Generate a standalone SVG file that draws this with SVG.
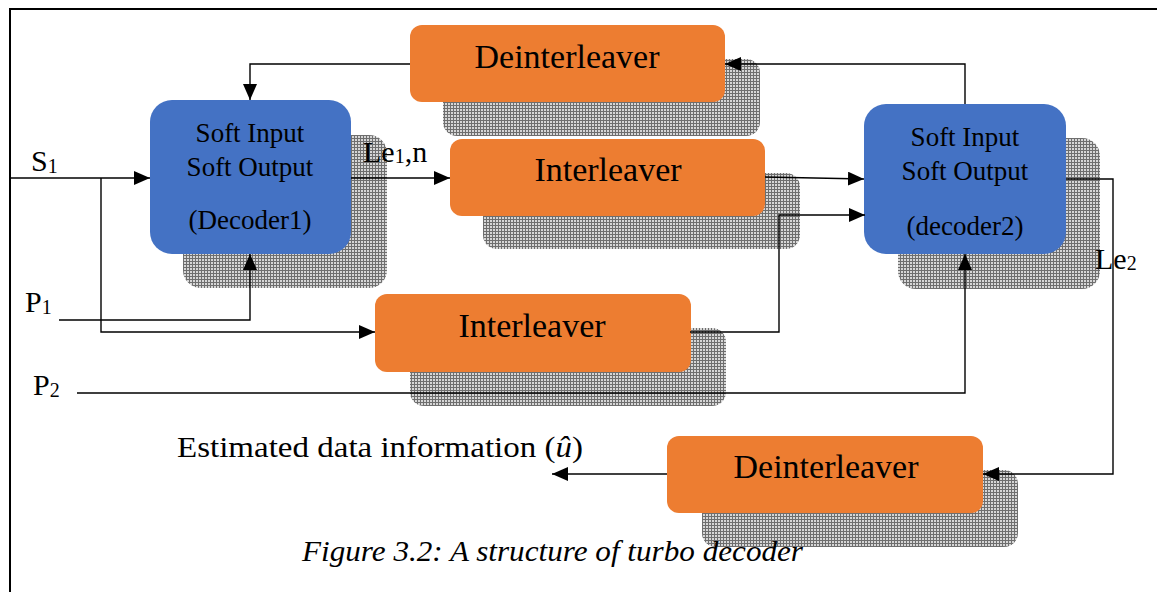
<svg xmlns="http://www.w3.org/2000/svg" width="1157" height="592" viewBox="0 0 1157 592">
<defs>
<pattern id="dots" width="3" height="3" patternUnits="userSpaceOnUse"><rect width="3" height="3" fill="#d6d6d6"/><rect width="3" height="1" fill="#6e6e6e"/><rect width="1" height="3" fill="#6e6e6e"/></pattern>
<marker id="arr" markerUnits="userSpaceOnUse" markerWidth="16" markerHeight="14" refX="16" refY="7" orient="auto"><path d="M0,0 L16,7 L0,14 z" fill="#000"/></marker>
<style>
.shadow{fill:url(#dots);}
.dec{fill:#4472C4;}
.blk{fill:#ED7D31;}
.t{font-family:"Liberation Serif","Times New Roman",serif;fill:#000;}
.dt{font-size:27px;text-anchor:middle;}
.bt{font-size:34px;text-anchor:middle;}
.lbl{font-size:30px;}
.cn{fill:none;stroke:#000;stroke-width:1.4;}
.ar{marker-end:url(#arr);}
</style>
</defs>
<rect width="1157" height="592" fill="#fff"/>
<path d="M10,592 V9 H1157" fill="none" stroke="#000" stroke-width="2"/>

<g id="decoder1">
<rect class="shadow" x="183" y="135" width="204" height="153" rx="18"/>
<rect class="dec" x="150" y="100" width="201" height="154" rx="22"/>
<text class="t dt" x="250" y="142">Soft Input</text>
<text class="t dt" x="250" y="176">Soft Output</text>
<text class="t dt" x="250" y="229">(Decoder1)</text>
</g>

<g id="deinterleaver-top">
<rect class="shadow" x="443" y="59" width="317" height="77" rx="14"/>
<rect class="blk" x="410" y="25" width="315" height="77" rx="12"/>
<text class="t bt" x="567" y="68">Deinterleaver</text>
</g>

<g id="interleaver-top">
<rect class="shadow" x="483" y="173" width="317" height="76" rx="14"/>
<rect class="blk" x="450" y="139" width="315" height="77" rx="12"/>
<text class="t bt" x="608" y="181">Interleaver</text>
</g>

<g id="interleaver-bottom">
<rect class="shadow" x="410" y="328" width="316" height="78" rx="14"/>
<rect class="blk" x="375" y="294" width="316" height="78" rx="12"/>
<text class="t bt" x="532" y="337">Interleaver</text>
</g>

<g id="decoder2">
<rect class="shadow" x="898" y="138" width="202" height="151" rx="18"/>
<rect class="dec" x="864" y="104" width="202" height="150" rx="22"/>
<text class="t dt" x="965" y="146">Soft Input</text>
<text class="t dt" x="965" y="180">Soft Output</text>
<text class="t dt" x="965" y="235">(decoder2)</text>
</g>

<g id="deinterleaver-bottom">
<rect class="shadow" x="702" y="470" width="316" height="77" rx="14"/>
<rect class="blk" x="667" y="436" width="316" height="77" rx="12"/>
<text class="t bt" x="826" y="478">Deinterleaver</text>
</g>

<g id="connectors">
<path class="cn ar" d="M410,64 H250 V100"/>
<path class="cn ar" d="M10,178 H150"/>
<path class="cn ar" d="M101,178 V332 H375"/>
<path class="cn ar" d="M59,320 H250 V254"/>
<path class="cn ar" d="M351,178 H450"/>
<path class="cn ar" d="M765,177 L864,179"/>
<path class="cn ar" d="M690,332 H779 V215 H865"/>
<path class="cn ar" d="M77,393 H965 V254"/>
<path class="cn ar" d="M965,104 V64 H725"/>
<path class="cn ar" d="M1066,179 H1113 V474 H983"/>
<path class="cn ar" d="M667,474 H552"/>
</g>

<g id="labels">
<text class="t lbl" x="31" y="171">S<tspan font-size="20" dy="2">1</tspan></text>
<text class="t lbl" x="363" y="162">Le<tspan font-size="20" dy="1">1</tspan><tspan dy="-1">,n</tspan></text>
<text class="t lbl" x="25" y="312">P<tspan font-size="20" dy="2">1</tspan></text>
<text class="t lbl" x="33" y="395">P<tspan font-size="20" dy="2">2</tspan></text>
<text class="t lbl" x="1095" y="269">Le<tspan font-size="20" dy="1">2</tspan></text>
<text class="t lbl" x="177" y="457" textLength="406" lengthAdjust="spacingAndGlyphs">Estimated data information (<tspan font-style="italic">û</tspan>)</text>
<text class="t lbl" x="302" y="561" font-style="italic" textLength="501" lengthAdjust="spacingAndGlyphs">Figure 3.2: A structure of turbo decoder</text>
</g>
</svg>
